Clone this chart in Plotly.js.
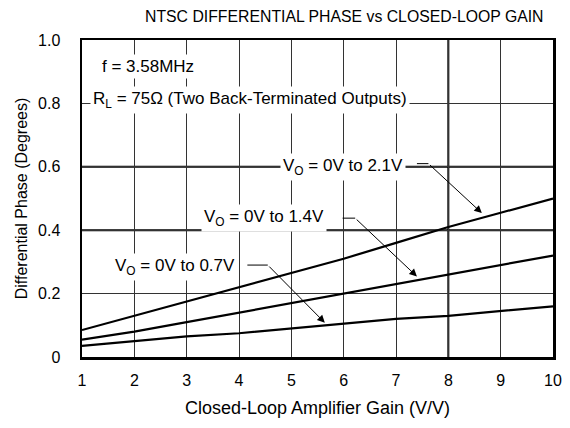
<!DOCTYPE html>
<html><head><meta charset="utf-8">
<script src="https://cdn.plot.ly/plotly-3.0.1.min.js"></script>
<style>body{margin:0;background:#fff}#c{width:570px;height:428px}</style>
</head><body><div id="c"></div>
<script>
const gain = [1,2,3,4,5,6,7,8,9,10];
const phase21 = [0.085,0.13,0.175,0.22,0.265,0.31,0.36,0.41,0.455,0.50];
const phase14 = [0.055,0.08,0.11,0.14,0.17,0.20,0.23,0.26,0.29,0.32];
const phase07 = [0.035,0.05,0.065,0.075,0.09,0.105,0.12,0.13,0.145,0.16];
const xTicks = [1,2,3,4,5,6,7,8,9,10];
const yTickVals = [0,0.2,0.4,0.6,0.8,1.0];
const yTickText = ['0','0.2','0.4','0.6','0.8','1.0'];
const seriesNames = ['V<sub>O</sub> = 0V to 2.1V','V<sub>O</sub> = 0V to 1.4V','V<sub>O</sub> = 0V to 0.7V'];

const F = 'Liberation Sans, Arial, sans-serif';
const line = {color:'#000', width:2.2};
const traces = [phase21, phase14, phase07].map((y,i)=>({
  x: gain, y: y, type:'scatter', mode:'lines', line: line, name: seriesNames[i], hoverinfo:'skip'
}));

// label placement (text centre, horizontal leader, arrow head)
const labels = [
  {t: seriesNames[0], tx:5.98, ty:0.600, h0:7.40, h1:7.62, hy:0.610, ax:8.64, ay:0.454},
  {t: seriesNames[1], tx:4.48, ty:0.440, h0:5.98, h1:6.22, hy:0.438, ax:7.40, ay:0.254},
  {t: seriesNames[2], tx:2.78, ty:0.283, h0:4.16, h1:4.55, hy:0.290, ax:5.64, ay:0.108}
];
const annotations = [];
const shapes = [];
labels.forEach(l=>{
  annotations.push({x:l.tx, y:l.ty, xref:'x', yref:'y', text:l.t, showarrow:false,
    font:{family:F, size:17, color:'#000'}, bgcolor:'#fff', borderpad:2});
  shapes.push({type:'line', xref:'x', yref:'y', x0:l.h0, x1:l.h1, y0:l.hy, y1:l.hy, line:{color:'#000', width:1}});
  annotations.push({x:l.ax, y:l.ay, xref:'x', yref:'y', ax:l.h1, ay:l.hy, axref:'x', ayref:'y',
    text:'', showarrow:true, arrowhead:2, arrowsize:1.5, arrowwidth:1, arrowcolor:'#000'});
});
annotations.push({x:1.33, y:0.915, xref:'x', yref:'y', xanchor:'left', text:'f = 3.58MHz', showarrow:false,
  font:{family:F, size:17, color:'#000'}, bgcolor:'#fff', borderpad:2});
annotations.push({x:1.15, y:0.812, xref:'x', yref:'y', xanchor:'left', text:'R<sub>L</sub> = 75Ω (Two Back-Terminated Outputs)', showarrow:false,
  font:{family:F, size:17, color:'#000'}, bgcolor:'#fff', borderpad:2});
// heavier grid lines
shapes.push({type:'line', xref:'x', yref:'paper', x0:8, x1:8, y0:0, y1:1, line:{color:'#000', width:2}, layer:'below'});
[0.4,0.6].forEach(v=>shapes.push({type:'line', xref:'paper', yref:'y', x0:0, x1:1, y0:v, y1:v, line:{color:'#000', width:2}, layer:'below'}));

const layout = {
  width:570, height:428, paper_bgcolor:'#fff', plot_bgcolor:'#fff', showlegend:false,
  margin:{l:82, r:17, t:40, b:71},
  title:{text:'NTSC DIFFERENTIAL PHASE vs CLOSED-LOOP GAIN', font:{family:F, size:15.8, color:'#000'}, x:0.604, xanchor:'center', y:0.962, yanchor:'middle'},
  xaxis:{range:[1,10], tickvals:xTicks, ticktext:xTicks.map(String), showgrid:true, gridcolor:'#333', gridwidth:1,
    zeroline:false, showline:true, mirror:true, linecolor:'#000', linewidth:2.5, ticks:'', ticklabelstandoff:7,
    tickfont:{family:F, size:16, color:'#000'},
    title:{text:'Closed-Loop Amplifier Gain (V/V)', font:{family:F, size:18, color:'#000'}, standoff:14}},
  yaxis:{range:[0,1], tickvals:yTickVals, ticktext:yTickText, showgrid:true, gridcolor:'#333', gridwidth:1,
    zeroline:false, showline:true, mirror:true, linecolor:'#000', linewidth:2.5, ticks:'', ticklabelstandoff:16,
    tickfont:{family:F, size:16, color:'#000'},
    title:{text:'Differential Phase (Degrees)', font:{family:F, size:16, color:'#000'}, standoff:7}},
  annotations: annotations, shapes: shapes
};
Plotly.newPlot('c', traces, layout, {displayModeBar:false, staticPlot:true});
</script></body></html>
